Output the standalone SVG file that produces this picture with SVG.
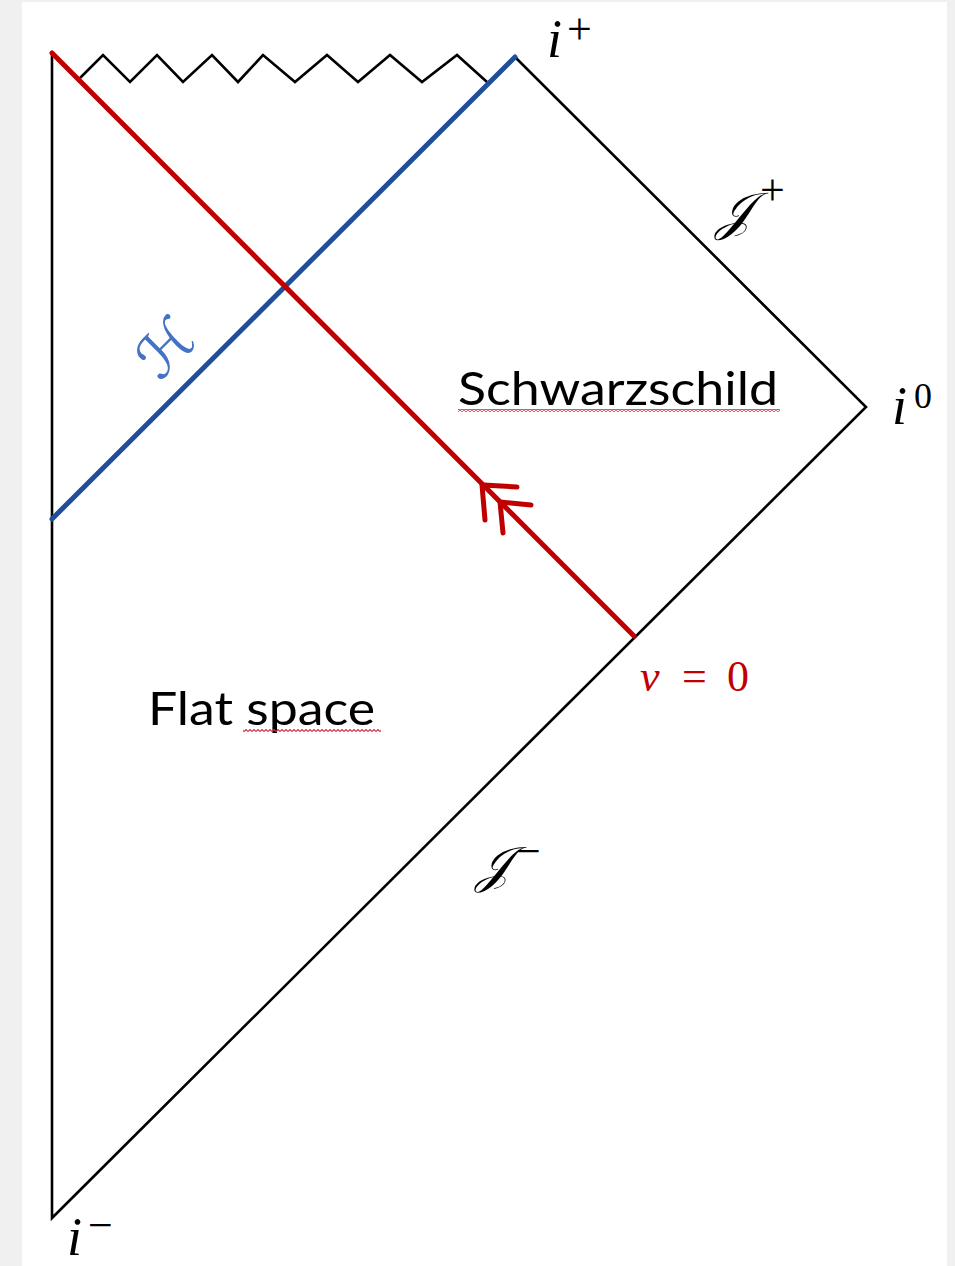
<svg xmlns="http://www.w3.org/2000/svg" width="955" height="1266" viewBox="0 0 955 1266">
  <style>
    .blk { fill: none; stroke: #000; stroke-width: 2.6; stroke-linejoin: miter; }
    .red { fill: none; stroke: #c00000; stroke-width: 5; stroke-linecap: round; }
    .blue { fill: none; stroke: #1f4e9a; stroke-width: 5; stroke-linecap: round; }
    .math { font-family: "Liberation Serif", "DejaVu Serif", serif; fill: #000; }
    .it { font-style: italic; }
    .script { font-family: "DejaVu Serif", "DejaVu Sans", "Liberation Serif", serif; }
    .lbl { font-family: Lato, "Open Sans", "Liberation Sans", sans-serif; font-size: 46px; fill: #000; }
    .redtxt { fill: #c00000; }
    .bluetxt { fill: #4472c4; }
  </style>
  <defs>
    <pattern id="squig" x="0" y="0" width="4" height="3" patternUnits="userSpaceOnUse">
      <path d="M0,2.5 L2,0.5 L4,2.5" fill="none" stroke="#d03048" stroke-width="1.1"/>
    </pattern>
  </defs>

  <rect x="0" y="0" width="955" height="1266" fill="#f0f0f0"/>
  <rect x="22" y="2" width="925" height="1264" fill="#fff"/>

  <g id="spacetime-boundary">
    <polyline class="blk" points="52,53 52,1218 866,407 515,57"/>
    <polyline class="blk" points="80,78 103,55 130,82 157,55 183,82 212,55 238,82 263,55 295,82 327,55 358,82 390,55 422,82 457,55 487,82"/>
  </g>

  <g id="connectors">
    <line id="horizon" class="blue" x1="52" y1="519" x2="515" y2="57"/>
    <line id="shell" class="red" x1="52" y1="53" x2="634" y2="636"/>
    <polyline class="red" points="517,487 482,485 485,520"/>
    <polyline class="red" points="531,505 500,502 503,533"/>
  </g>

  <g id="label-iplus">
    <text class="math it" x="547" y="57" font-size="54">i</text>
    <text class="math" x="567" y="44" font-size="44">+</text>
  </g>
  <g id="label-scriplus">
    <text class="math script it" x="716" y="229" font-size="52">𝒥</text>
    <text class="math" x="760" y="205" font-size="44">+</text>
  </g>
  <g id="label-i0">
    <text class="math it" x="892" y="424" font-size="54">i</text>
    <text class="math" x="914" y="408" font-size="36">0</text>
  </g>
  <g id="label-scriminus">
    <text class="math script it" x="476" y="882" font-size="50">𝒥</text>
    <text class="math" x="516" y="866" font-size="44">−</text>
  </g>
  <g id="label-iminus">
    <text class="math it" x="67" y="1255" font-size="54">i</text>
    <text class="math" x="88" y="1240" font-size="44">−</text>
  </g>
  <g id="label-H">
    <text class="script it bluetxt" x="0" y="0" font-size="58" transform="translate(180,362) rotate(-45)" text-anchor="middle">ℋ</text>
  </g>
  <g id="label-v0">
    <text class="math redtxt" y="691" font-size="44"><tspan class="it" x="640">v</tspan><tspan x="682">=</tspan><tspan x="727">0</tspan></text>
  </g>

  <g id="region-schwarzschild">
    <text class="lbl" x="458" y="405" textLength="320" lengthAdjust="spacingAndGlyphs">Schwarzschild</text>
    <rect x="458" y="409" width="322" height="3" fill="url(#squig)"/>
  </g>
  <g id="region-flat">
    <text class="lbl" x="148" y="725" textLength="227" lengthAdjust="spacingAndGlyphs">Flat space</text>
    <rect x="243" y="729" width="138" height="3" fill="url(#squig)"/>
  </g>
</svg>
